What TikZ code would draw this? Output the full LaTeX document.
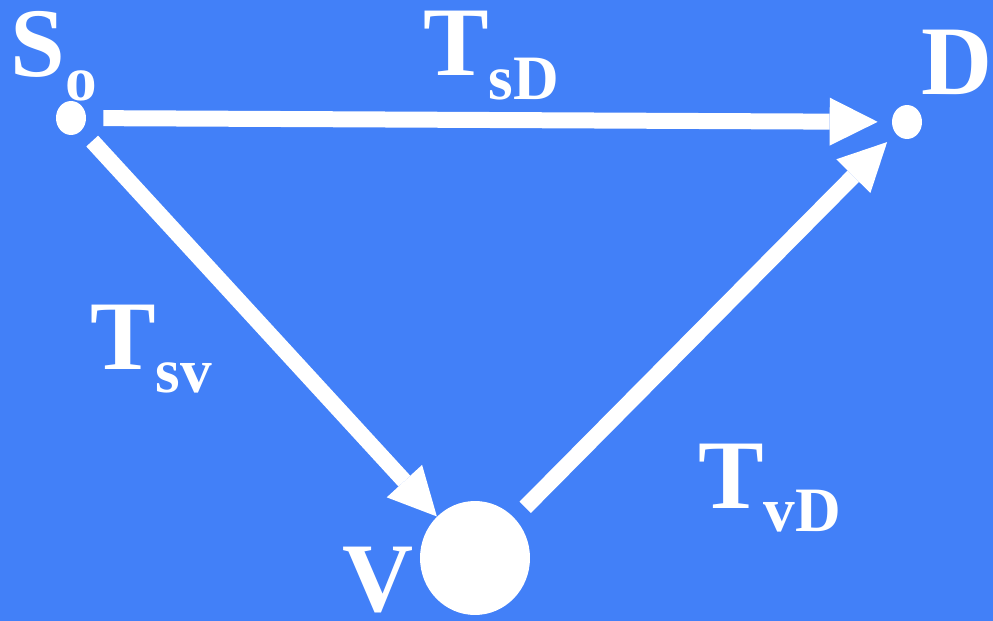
\documentclass[tikz,border=0pt]{standalone}
\usepackage{fontspec}
\setmainfont{Liberation Serif}
\usetikzlibrary{shapes.geometric, arrows.meta}
\definecolor{slideblue}{RGB}{66,128,248}
\newcommand{\bigfont}{\fontsize{56}{62}\selectfont\bfseries}
\newcommand{\subfont}{\fontsize{36}{40}\selectfont\bfseries}
\newcommand{\sublabel}[2]{#1\raisebox{-0.48cm}{\subfont #2}}

\begin{document}
\begin{tikzpicture}[
    x=0.02cm, y=-0.02cm,
    dot/.style = {ellipse, fill=white, inner sep=0pt, minimum width=0.6cm, minimum height=0.68cm},
    bigdot/.style = {ellipse, fill=white, inner sep=0pt, minimum width=2.2cm, minimum height=2.28cm},
    tag/.style = {anchor=base west, inner sep=0pt, text=white, font=\bigfont},
    link/.style = {draw=white, line width=0.32cm, -{Triangle[length=0.96cm, width=0.96cm, line width=0pt]}},
    ]

    \useasboundingbox (0,0) rectangle (993,621);
    \fill[slideblue] (0,0) rectangle (993,621);

    \node[dot] (src) at (71,118) {};
    \node[dot] (dst) at (907,122) {};
    \node[bigdot] (via) at (475,558) {};

    \node[tag] (srcname) at (10,77) {\sublabel{S}{o}};
    \node[tag] (dstname) at (921,95) {D};
    \node[tag] (vianame) at (342,611) {V};
    \node[tag] (tsd) at (423,76) {\sublabel{T}{sD}};
    \node[tag] (tsv) at (90,369) {\sublabel{T}{sv}};
    \node[tag] (tvd) at (698,508) {\sublabel{T}{vD}};

    \draw[link, shorten <=0.34cm, shorten >=0.28cm] (src) -- (dst);
    \draw[link, shorten <=0.3cm] (src) -- (via);
    \draw[link, shorten <=0.3cm, shorten >=0.24cm] (via) -- (dst);
\end{tikzpicture}
\end{document}
